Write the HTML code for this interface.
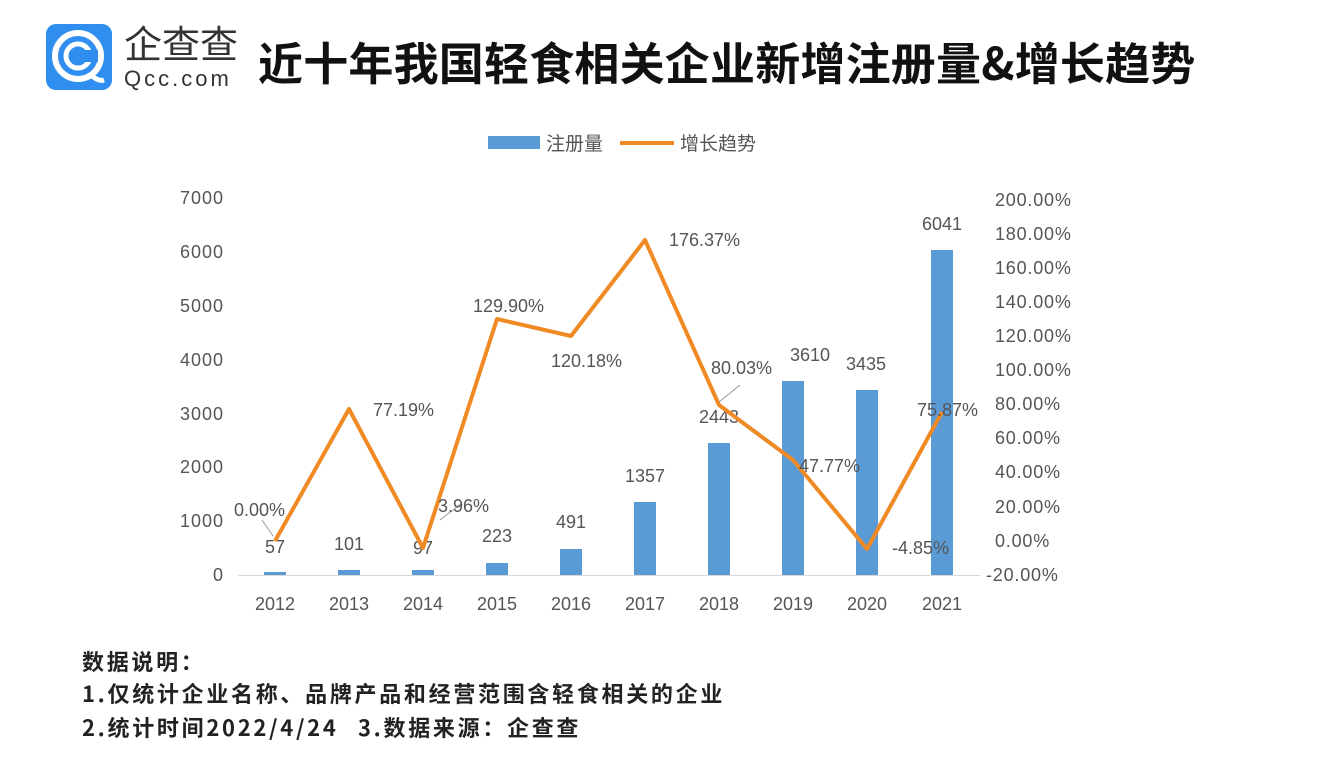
<!DOCTYPE html>
<html><head><meta charset="utf-8"><style>
body{margin:0;width:1340px;height:774px;background:#fff;overflow:hidden;font-family:"Liberation Sans","Noto Sans CJK SC",sans-serif;}
</style></head><body>
<svg width="1340" height="774" xmlns="http://www.w3.org/2000/svg" font-family="Liberation Sans, Noto Sans CJK SC, sans-serif">
<rect x="46" y="24" width="66" height="66" rx="10" fill="#2f8ef0"/>
<circle cx="78" cy="56" r="23" fill="none" stroke="#fff" stroke-width="6"/>
<circle cx="78" cy="56" r="12" fill="none" stroke="#fff" stroke-width="5"/>
<rect x="82" y="50" width="16" height="12" fill="#2f8ef0"/>
<path d="M90 74 Q98 82 104 80" stroke="#fff" stroke-width="5" fill="none"/>
<text x="124" y="58" font-size="38" fill="#333" font-family="Noto Sans CJK SC, sans-serif">企查查</text>
<text x="124" y="86" font-size="22" fill="#333" letter-spacing="3">Qcc.com</text>
<text x="258" y="80" font-size="45" font-weight="bold" fill="#111" letter-spacing="0.2" font-family="Noto Sans CJK SC, sans-serif">近十年我国轻食相关企业新增注册量&amp;增长趋势</text>
<rect x="488" y="136" width="52" height="13" fill="#5b9bd5"/>
<text x="546" y="150" font-size="19" fill="#555" font-family="Noto Sans CJK SC, sans-serif">注册量</text>
<line x1="620" y1="143" x2="674" y2="143" stroke="#f08a25" stroke-width="4"/>
<text x="680" y="150" font-size="19" fill="#555" font-family="Noto Sans CJK SC, sans-serif">增长趋势</text>
<g font-size="18" fill="#555" text-anchor="end" letter-spacing="1">
<text x="224" y="204">7000</text><text x="224" y="258">6000</text><text x="224" y="312">5000</text><text x="224" y="366">4000</text><text x="224" y="420">3000</text><text x="224" y="473">2000</text><text x="224" y="527">1000</text><text x="224" y="581">0</text>
</g>
<g font-size="18" fill="#555" letter-spacing="0.8">
<text x="995" y="206">200.00%</text><text x="995" y="240">180.00%</text><text x="995" y="274">160.00%</text><text x="995" y="308">140.00%</text><text x="995" y="342">120.00%</text><text x="995" y="376">100.00%</text><text x="995" y="410">80.00%</text><text x="995" y="444">60.00%</text><text x="995" y="478">40.00%</text><text x="995" y="513">20.00%</text><text x="995" y="547">0.00%</text><text x="986" y="581">-20.00%</text>
</g>
<line x1="238" y1="575.5" x2="980" y2="575.5" stroke="#d9d9d9"/>
<g fill="#5b9bd5">
<rect x="264" y="572" width="22" height="3"/>
<rect x="338" y="570" width="22" height="5"/>
<rect x="412" y="570" width="22" height="5"/>
<rect x="486" y="563" width="22" height="12"/>
<rect x="560" y="549" width="22" height="26"/>
<rect x="634" y="502" width="22" height="73"/>
<rect x="708" y="443" width="22" height="132"/>
<rect x="782" y="381" width="22" height="194"/>
<rect x="856" y="390" width="22" height="185"/>
<rect x="931" y="250" width="22" height="325"/>
</g>
<g font-size="18" fill="#555" text-anchor="middle">
<text x="275" y="610">2012</text><text x="349" y="610">2013</text><text x="423" y="610">2014</text><text x="497" y="610">2015</text><text x="571" y="610">2016</text><text x="645" y="610">2017</text><text x="719" y="610">2018</text><text x="793" y="610">2019</text><text x="867" y="610">2020</text><text x="942" y="610">2021</text>
<text x="275" y="553">57</text><text x="349" y="550">101</text><text x="423" y="554">97</text><text x="497" y="542">223</text><text x="571" y="528">491</text><text x="645" y="482">1357</text><text x="719" y="423">2443</text><text x="810" y="361">3610</text><text x="866" y="370">3435</text><text x="942" y="230">6041</text>
</g>
<polyline points="275,541 349,409 423,548 497,319 571,336 645,240 719,405 793,460 867,549 942,412" fill="none" stroke="#f08a25" stroke-width="4" stroke-linejoin="round"/>
<line x1="262" y1="520" x2="273" y2="536" stroke="#999"/>
<line x1="440" y1="520" x2="462" y2="503" stroke="#999"/>
<line x1="719" y1="402" x2="740" y2="385" stroke="#999"/>
<g font-size="18" fill="#555">
<text x="234" y="516">0.00%</text><text x="373" y="416">77.19%</text><text x="438" y="512">3.96%</text><text x="473" y="312">129.90%</text><text x="551" y="367">120.18%</text><text x="669" y="246">176.37%</text><text x="711" y="374">80.03%</text><text x="799" y="472">47.77%</text><text x="892" y="554">-4.85%</text><text x="917" y="416">75.87%</text>
</g>
<g font-size="22" font-weight="bold" fill="#222" letter-spacing="2.7" font-family="Noto Sans CJK SC, sans-serif">
<text x="82" y="670">数据说明：</text>
<text x="82" y="702">1.仅统计企业名称、品牌产品和经营范围含轻食相关的企业</text>
<text x="82" y="736">2.统计时间2022/4/24</text>
<text x="358" y="736">3.数据来源：企查查</text>
</g>
</svg>
</body></html>
